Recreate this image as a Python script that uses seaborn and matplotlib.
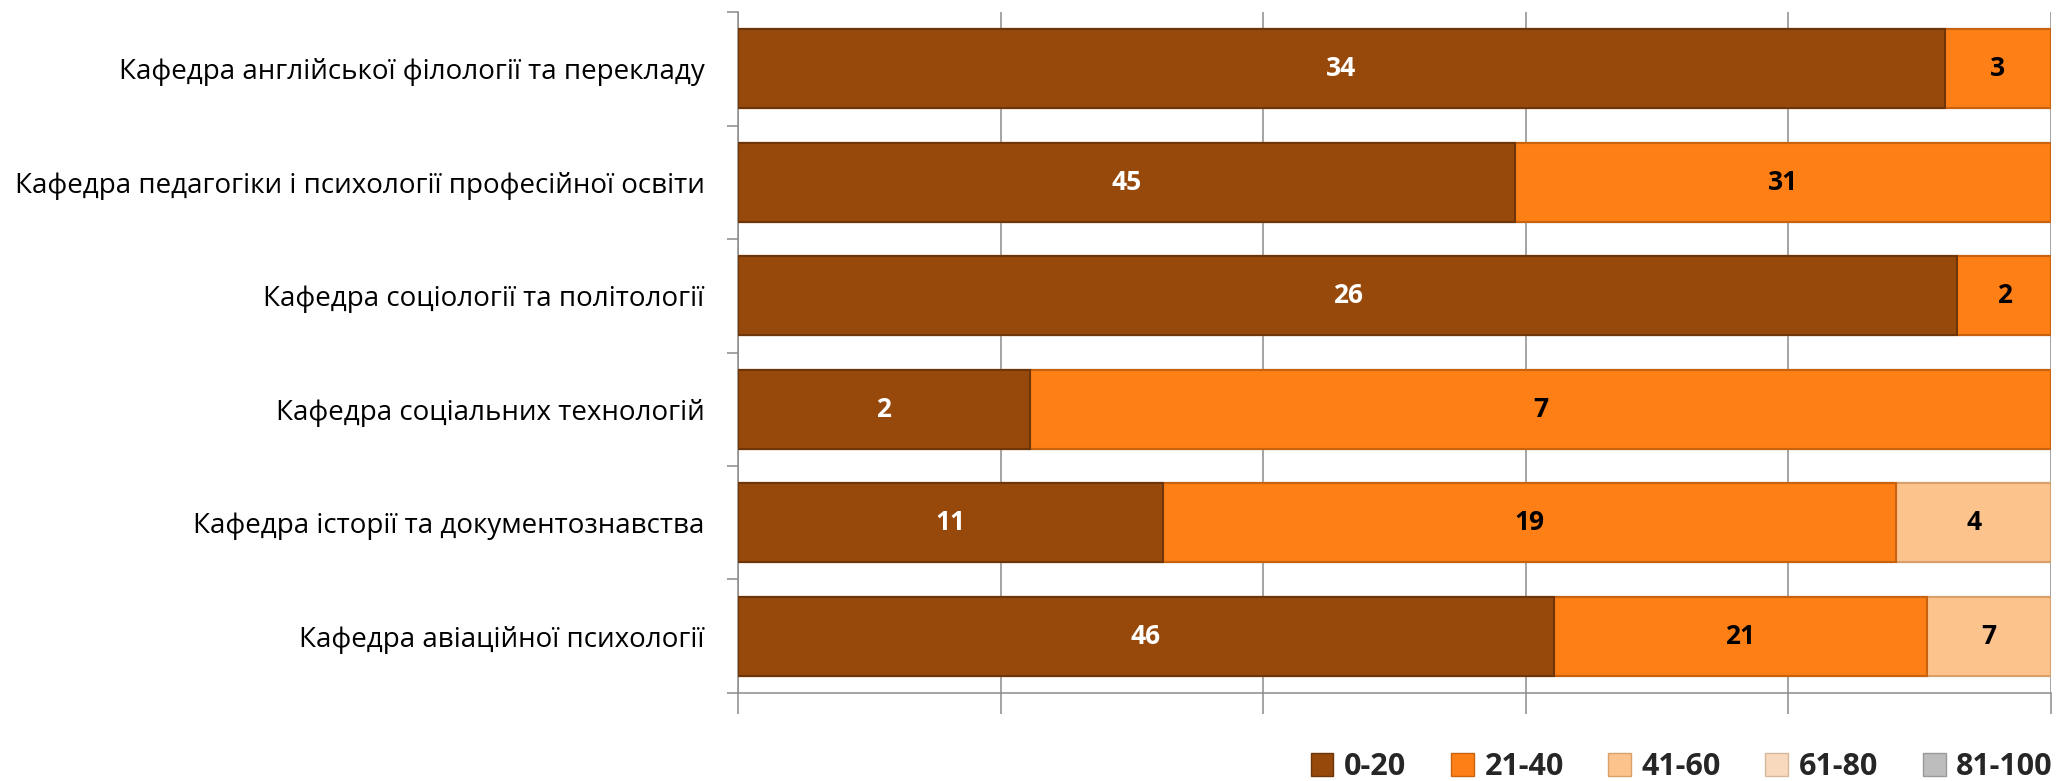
import numpy as np
import pandas as pd
import matplotlib
matplotlib.use("Agg")
import matplotlib.pyplot as plt
import seaborn as sns
from matplotlib.patches import Patch
from matplotlib.ticker import FixedLocator, NullFormatter

categories = [
    "Кафедра англійської філології та перекладу",
    "Кафедра педагогіки і психології професійної освіти",
    "Кафедра соціології та політології",
    "Кафедра соціальних технологій",
    "Кафедра історії та документознавства",
    "Кафедра авіаційної психології",
]
series_names = ["0-20", "21-40", "41-60", "61-80", "81-100"]
s_0_20 = [34, 45, 26, 2, 11, 46]
s_21_40 = [3, 31, 2, 7, 19, 21]
s_41_60 = [0, 0, 0, 0, 4, 7]
s_61_80 = [0, 0, 0, 0, 0, 0]
s_81_100 = [0, 0, 0, 0, 0, 0]

colors = ["#97490C", "#FD7F15", "#FCC38D", "#F9D9BE", "#BDBDBD"]
edge_colors = ["#6E3508", "#C8620E", "#D9A06C", "#D8B89C", "#999999"]
text_colors = ["white", "black", "black", "black", "black"]

vals = np.array([s_0_20, s_21_40, s_41_60, s_61_80, s_81_100], dtype=float)
totals = vals.sum(axis=0)
pct = vals / totals * 100
cum = np.cumsum(pct, axis=0)

sns.set_theme(style="white")
plt.rcParams["font.family"] = ["Open Sans", "DejaVu Sans"]

fig = plt.figure(figsize=(20.59, 7.81), dpi=100)
ax = fig.add_axes([0.3584, 0.1127, 0.9961 - 0.3584, 0.9846 - 0.1127])

# draw cumulative bars from the last series to the first so earlier ones overlay
for i in range(len(series_names) - 1, -1, -1):
    df = pd.DataFrame({"cat": categories, "val": cum[i]})
    sns.barplot(data=df, x="val", y="cat", orient="h", color=colors[i],
                saturation=1, width=0.70, ax=ax, edgecolor=edge_colors[i],
                linewidth=1.5, zorder=3)

# value labels
for i in range(len(series_names)):
    for j, cat in enumerate(categories):
        if vals[i, j] > 0:
            center = cum[i, j] - pct[i, j] / 2
            ax.text(center, j, f"{int(vals[i, j])}", ha="center", va="center",
                    fontsize=19, fontweight="bold", color=text_colors[i], zorder=5)

ax.set_xlim(0, 100)
ax.set_ylim(len(categories) - 0.5, -0.5)
ax.set_xlabel("")
ax.set_ylabel("")

ax.xaxis.set_major_locator(FixedLocator([0, 20, 40, 60, 80, 100]))
ax.xaxis.set_major_formatter(NullFormatter())
ax.grid(axis="x", color="#8C8C8C", linewidth=1.1, zorder=0)
ax.set_axisbelow(True)
ax.tick_params(axis="x", which="major", direction="out", length=15,
               width=1.1, color="#8C8C8C", bottom=True)

ax.yaxis.set_minor_locator(FixedLocator(np.arange(-0.5, len(categories), 1.0)))
ax.tick_params(axis="y", which="minor", direction="out", length=8,
               width=1.1, color="#8C8C8C", left=True)
ax.tick_params(axis="y", which="major", length=0, pad=24, labelsize=20,
               labelcolor="black")

for side in ["top", "right"]:
    ax.spines[side].set_visible(False)
for side in ["left", "bottom"]:
    ax.spines[side].set_color("#8C8C8C")
    ax.spines[side].set_linewidth(1.1)

handles = [Patch(facecolor=colors[i], edgecolor=edge_colors[i], label=series_names[i])
           for i in range(len(series_names))]
leg = fig.legend(handles=handles, loc="center right", ncol=5,
                 bbox_to_anchor=(0.997, 1 - 767 / 781), frameon=False,
                 borderaxespad=0, borderpad=0,
                 prop={"size": 22, "weight": "bold"},
                 handlelength=0.75, handleheight=0.75, handletextpad=0.35,
                 columnspacing=1.45)

fig.savefig("out.png", dpi=100)
